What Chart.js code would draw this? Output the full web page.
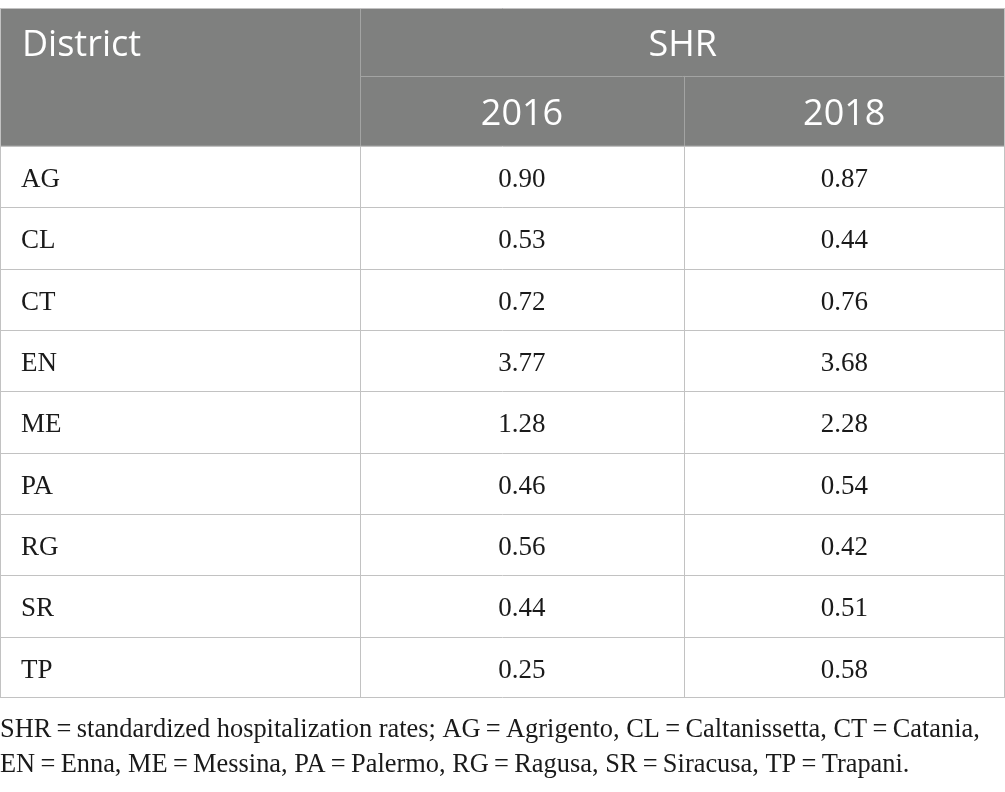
<!DOCTYPE html>
<html>
<head>
<meta charset="utf-8">
<script src="https://cdn.jsdelivr.net/npm/chart.js@4/dist/chart.umd.min.js"></script>
<style>
  html, body { margin: 0; padding: 0; background: #fff; }
  #wrap { width: 1005px; height: 792px; position: relative; }
</style>
</head>
<body>
<div id="wrap"><canvas id="tabel-shr"></canvas></div>
<script>
// Data
const districts = ['AG', 'CL', 'CT', 'EN', 'ME', 'PA', 'RG', 'SR', 'TP'];
const shr2016 = [0.90, 0.53, 0.72, 3.77, 1.28, 0.46, 0.56, 0.44, 0.25];
const shr2018 = [0.87, 0.44, 0.76, 3.68, 2.28, 0.54, 0.42, 0.51, 0.58];
const years = ['2016', '2018'];
const firstHeader = 'District';
const groupHeader = 'SHR';
const footnoteLines = [
    'SHR\u2009=\u2009standardized hospitalization rates; AG\u2009=\u2009Agrigento, CL\u2009=\u2009Caltanissetta, CT\u2009=\u2009Catania,',
    'EN\u2009=\u2009Enna, ME\u2009=\u2009Messina, PA\u2009=\u2009Palermo, RG\u2009=\u2009Ragusa, SR\u2009=\u2009Siracusa, TP\u2009=\u2009Trapani.'
];

// Layout (scale units): column edges on x, row edges on y
const colEdges = [0, 1.119, 2.122, 3.12];
const headerEdges = [0, 1.107, 2.247];

const headFill = '#7f807f';
const headLine = '#a3a4a3';
const gridLine = '#c2c2c2';
const headFont = '"Open Sans", sans-serif';
const bodyFont = '"Liberation Serif", "DejaVu Serif", serif';

function rowTop(i) { return headerEdges[2] + i; }

function hLine(ctx, x1, x2, y, color) {
    const yy = Math.round(y) + 0.5;
    ctx.strokeStyle = color;
    ctx.beginPath(); ctx.moveTo(x1, yy); ctx.lineTo(x2, yy); ctx.stroke();
}
function vLine(ctx, x, y1, y2, color) {
    const xx = Math.round(x) + 0.5;
    ctx.strokeStyle = color;
    ctx.beginPath(); ctx.moveTo(xx, y1); ctx.lineTo(xx, y2); ctx.stroke();
}

const tablePlugin = {
    id: 'tablePlugin',
    afterDraw(chart) {
        const ctx = chart.ctx;
        const xs = chart.scales.x;
        const ys = chart.scales.y;
        const px = v => xs.getPixelForValue(v);
        const py = v => ys.getPixelForValue(v);
        const left = px(colEdges[0]), right = px(colEdges[3]);
        const top = py(0), headBottom = py(headerEdges[2]);
        const bottom = py(rowTop(districts.length));

        ctx.save();
        ctx.lineWidth = 1;

        // Header background
        ctx.fillStyle = headFill;
        ctx.fillRect(left, top, right - left, headBottom - top);

        // Header inner lines
        vLine(ctx, px(colEdges[1]), top, headBottom, headLine);
        hLine(ctx, px(colEdges[1]), right, py(headerEdges[1]), headLine);
        vLine(ctx, px(colEdges[2]), py(headerEdges[1]), headBottom, headLine);

        // Body grid
        for (let i = 1; i < districts.length; i++) {
            hLine(ctx, left, right, py(rowTop(i)), gridLine);
        }
        vLine(ctx, px(colEdges[1]), headBottom, bottom, gridLine);
        vLine(ctx, px(colEdges[2]), headBottom, bottom, gridLine);

        // Outer border
        hLine(ctx, left, right, top, gridLine);
        hLine(ctx, left, right, headBottom, gridLine);
        hLine(ctx, left, right, bottom - 1, gridLine);
        vLine(ctx, left, top, bottom, gridLine);
        vLine(ctx, right - 1, top, bottom, gridLine);

        // Header text
        const hSize = 36;
        ctx.font = hSize + 'px ' + headFont;
        ctx.fillStyle = '#ffffff';
        ctx.textBaseline = 'alphabetic';
        const hOff = hSize * 0.36 + 1;
        const r1 = (py(0) + py(headerEdges[1])) / 2;
        const r2 = (py(headerEdges[1]) + py(headerEdges[2])) / 2;
        ctx.textAlign = 'left';
        ctx.fillText(firstHeader, left + 22, r1 + hOff);
        ctx.textAlign = 'center';
        ctx.fillText(groupHeader, (px(colEdges[1]) + right) / 2, r1 + hOff);
        years.forEach((yr, j) => {
            ctx.fillText(yr, (px(colEdges[j + 1]) + px(colEdges[j + 2])) / 2, r2 + hOff);
        });

        // Body text
        const bSize = 27;
        ctx.font = bSize + 'px ' + bodyFont;
        ctx.fillStyle = '#1a1a1a';
        const bOff = bSize * 0.33 + 1.5;
        const series = [shr2016, shr2018];
        districts.forEach((d, i) => {
            const cy = (py(rowTop(i)) + py(rowTop(i + 1))) / 2 + bOff;
            ctx.textAlign = 'left';
            ctx.fillText(d, left + 21, cy);
            ctx.textAlign = 'center';
            series.forEach((s, j) => {
                ctx.fillText(s[i].toFixed(2), (px(colEdges[j + 1]) + px(colEdges[j + 2])) / 2, cy);
            });
        });

        // Footnote, sized so the first line spans the same width as in the print
        let fSize = 25;
        ctx.font = fSize + 'px ' + bodyFont;
        const w = ctx.measureText(footnoteLines[0]).width;
        fSize = fSize * 980 / w;
        ctx.font = fSize.toFixed(2) + 'px ' + bodyFont;
        ctx.textAlign = 'left';
        footnoteLines.forEach((t, k) => {
            ctx.fillText(t, left, bottom + 39 + k * 35);
        });

        ctx.restore();
    }
};

const canvas = document.getElementById('tabel-shr');
new Chart(canvas, {
    type: 'scatter',
    data: { datasets: [] },
    options: {
        responsive: true,
        maintainAspectRatio: false,
        animation: false,
        events: [],
        layout: { padding: { top: 8, left: 0, right: 0, bottom: 94 } },
        scales: {
            x: { type: 'linear', display: false, min: colEdges[0], max: colEdges[3] },
            y: { type: 'linear', display: false, reverse: true, min: 0, max: rowTop(districts.length) }
        },
        plugins: {
            legend: { display: false },
            tooltip: { enabled: false }
        }
    },
    plugins: [tablePlugin]
});
</script>
</body>
</html>
